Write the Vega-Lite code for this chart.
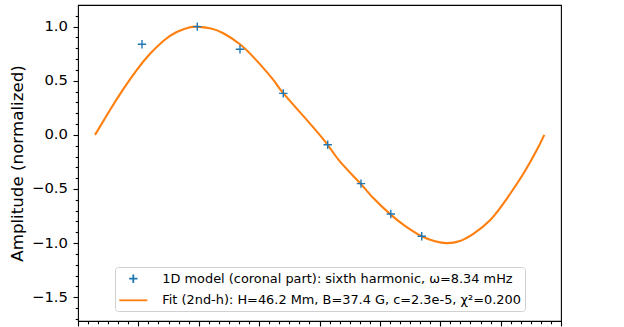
{
  "$schema": "https://vega.github.io/schema/vega-lite/v6.json",
  "width": 483,
  "height": 316,
  "autosize": {"type": "none"},
  "padding": {"left": 78, "top": 5, "right": 63, "bottom": 6},
  "config": {
    "font": "DejaVu Sans",
    "view": {"stroke": "#000000", "strokeWidth": 1.1},
    "axis": {"grid": false, "domain": false, "tickColor": "#000000", "labelColor": "#000000", "titleColor": "#000000", "labelFont": "DejaVu Sans", "titleFont": "DejaVu Sans", "tickWidth": 1.1, "labelOverlap": false}
  },
  "datasets": {
    "fitcurve": [
      {"x": 0.282, "y": 0.0, "series": "Fit (2nd-h): H=46.2 Mm, B=37.4 G, c=2.3e-5, χ²=0.200"},
      {"x": 0.530, "y": 0.229, "series": "Fit (2nd-h): H=46.2 Mm, B=37.4 G, c=2.3e-5, χ²=0.200"},
      {"x": 0.750, "y": 0.422, "series": "Fit (2nd-h): H=46.2 Mm, B=37.4 G, c=2.3e-5, χ²=0.200"},
      {"x": 0.972, "y": 0.599, "series": "Fit (2nd-h): H=46.2 Mm, B=37.4 G, c=2.3e-5, χ²=0.200"},
      {"x": 1.193, "y": 0.749, "series": "Fit (2nd-h): H=46.2 Mm, B=37.4 G, c=2.3e-5, χ²=0.200"},
      {"x": 1.413, "y": 0.868, "series": "Fit (2nd-h): H=46.2 Mm, B=37.4 G, c=2.3e-5, χ²=0.200"},
      {"x": 1.635, "y": 0.951, "series": "Fit (2nd-h): H=46.2 Mm, B=37.4 G, c=2.3e-5, χ²=0.200"},
      {"x": 1.855, "y": 0.994, "series": "Fit (2nd-h): H=46.2 Mm, B=37.4 G, c=2.3e-5, χ²=0.200"},
      {"x": 1.971, "y": 1.000, "series": "Fit (2nd-h): H=46.2 Mm, B=37.4 G, c=2.3e-5, χ²=0.200"},
      {"x": 2.186, "y": 0.985, "series": "Fit (2nd-h): H=46.2 Mm, B=37.4 G, c=2.3e-5, χ²=0.200"},
      {"x": 2.407, "y": 0.939, "series": "Fit (2nd-h): H=46.2 Mm, B=37.4 G, c=2.3e-5, χ²=0.200"},
      {"x": 2.683, "y": 0.837, "series": "Fit (2nd-h): H=46.2 Mm, B=37.4 G, c=2.3e-5, χ²=0.200"},
      {"x": 2.948, "y": 0.693, "series": "Fit (2nd-h): H=46.2 Mm, B=37.4 G, c=2.3e-5, χ²=0.200"},
      {"x": 3.235, "y": 0.508, "series": "Fit (2nd-h): H=46.2 Mm, B=37.4 G, c=2.3e-5, χ²=0.200"},
      {"x": 3.400, "y": 0.385, "series": "Fit (2nd-h): H=46.2 Mm, B=37.4 G, c=2.3e-5, χ²=0.200"},
      {"x": 3.788, "y": 0.139, "series": "Fit (2nd-h): H=46.2 Mm, B=37.4 G, c=2.3e-5, χ²=0.200"},
      {"x": 4.136, "y": -0.092, "series": "Fit (2nd-h): H=46.2 Mm, B=37.4 G, c=2.3e-5, χ²=0.200"},
      {"x": 4.340, "y": -0.247, "series": "Fit (2nd-h): H=46.2 Mm, B=37.4 G, c=2.3e-5, χ²=0.200"},
      {"x": 4.687, "y": -0.455, "series": "Fit (2nd-h): H=46.2 Mm, B=37.4 G, c=2.3e-5, χ²=0.200"},
      {"x": 4.891, "y": -0.584, "series": "Fit (2nd-h): H=46.2 Mm, B=37.4 G, c=2.3e-5, χ²=0.200"},
      {"x": 5.184, "y": -0.739, "series": "Fit (2nd-h): H=46.2 Mm, B=37.4 G, c=2.3e-5, χ²=0.200"},
      {"x": 5.416, "y": -0.840, "series": "Fit (2nd-h): H=46.2 Mm, B=37.4 G, c=2.3e-5, χ²=0.200"},
      {"x": 5.693, "y": -0.937, "series": "Fit (2nd-h): H=46.2 Mm, B=37.4 G, c=2.3e-5, χ²=0.200"},
      {"x": 5.913, "y": -0.983, "series": "Fit (2nd-h): H=46.2 Mm, B=37.4 G, c=2.3e-5, χ²=0.200"},
      {"x": 6.107, "y": -1.000, "series": "Fit (2nd-h): H=46.2 Mm, B=37.4 G, c=2.3e-5, χ²=0.200"},
      {"x": 6.327, "y": -0.980, "series": "Fit (2nd-h): H=46.2 Mm, B=37.4 G, c=2.3e-5, χ²=0.200"},
      {"x": 6.548, "y": -0.914, "series": "Fit (2nd-h): H=46.2 Mm, B=37.4 G, c=2.3e-5, χ²=0.200"},
      {"x": 6.824, "y": -0.789, "series": "Fit (2nd-h): H=46.2 Mm, B=37.4 G, c=2.3e-5, χ²=0.200"},
      {"x": 7.101, "y": -0.591, "series": "Fit (2nd-h): H=46.2 Mm, B=37.4 G, c=2.3e-5, χ²=0.200"},
      {"x": 7.376, "y": -0.360, "series": "Fit (2nd-h): H=46.2 Mm, B=37.4 G, c=2.3e-5, χ²=0.200"},
      {"x": 7.597, "y": -0.143, "series": "Fit (2nd-h): H=46.2 Mm, B=37.4 G, c=2.3e-5, χ²=0.200"},
      {"x": 7.723, "y": 0.0, "series": "Fit (2nd-h): H=46.2 Mm, B=37.4 G, c=2.3e-5, χ²=0.200"}
    ],
    "model": [
      {"x": 1.060, "y": 0.837, "series": "1D model (coronal part): sixth harmonic, ω=8.34 mHz"},
      {"x": 1.976, "y": 1.000, "series": "1D model (coronal part): sixth harmonic, ω=8.34 mHz"},
      {"x": 2.683, "y": 0.791, "series": "1D model (coronal part): sixth harmonic, ω=8.34 mHz"},
      {"x": 3.400, "y": 0.383, "series": "1D model (coronal part): sixth harmonic, ω=8.34 mHz"},
      {"x": 4.136, "y": -0.092, "series": "1D model (coronal part): sixth harmonic, ω=8.34 mHz"},
      {"x": 4.687, "y": -0.451, "series": "1D model (coronal part): sixth harmonic, ω=8.34 mHz"},
      {"x": 5.181, "y": -0.731, "series": "1D model (coronal part): sixth harmonic, ω=8.34 mHz"},
      {"x": 5.693, "y": -0.937, "series": "1D model (coronal part): sixth harmonic, ω=8.34 mHz"}
    ]
  },
  "layer": [
    {
      "data": {"name": "fitcurve"},
      "mark": {"type": "line", "strokeWidth": 2.1, "interpolate": "natural"},
      "encoding": {
        "x": {"field": "x", "type": "quantitative", "scale": {"domain": [0, 8], "nice": false, "zero": false},
          "axis": {"orient": "bottom", "labels": false, "tickSize": 5, "title": null, "values": [0, 1, 2, 3, 4, 5, 6, 7, 8]}},
        "y": {"field": "y", "type": "quantitative", "scale": {"domain": [-1.72, 1.2], "nice": false, "zero": false},
          "axis": {"orient": "left", "tickSize": 5, "labelFontSize": 14.8, "labelPadding": 5.5,
            "values": [-1.5, -1, -0.5, 0, 0.5, 1],
            "labelExpr": "replace(format(datum.value, '.1f'), '-', '−')",
            "title": "Amplitude (normalized)", "titleFontSize": 16.7, "titleFontWeight": "normal", "titlePadding": 5}},
        "color": {"field": "series", "type": "nominal",
          "scale": {"domain": ["1D model (coronal part): sixth harmonic, ω=8.34 mHz", "Fit (2nd-h): H=46.2 Mm, B=37.4 G, c=2.3e-5, χ²=0.200"], "range": ["#1f77b4", "#ff7f0e"]},
          "legend": {"orient": "none", "legendX": 37, "legendY": 262, "title": null, "fillColor": "#ffffff", "strokeColor": "#d0d0d0",
            "cornerRadius": 3, "padding": 3.7, "rowPadding": 5.6, "symbolSize": 196, "symbolOffset": 6.6, "symbolStrokeWidth": 1.8,
            "labelFontSize": 12.9, "labelFont": "DejaVu Sans", "labelColor": "#000000", "labelOffset": 21, "labelLimit": 600}}
      }
    },
    {
      "data": {"name": "model"},
      "mark": {"type": "point", "size": 196, "strokeWidth": 1.4, "filled": false, "opacity": 1},
      "encoding": {
        "x": {"field": "x", "type": "quantitative", "scale": {"domain": [0, 8], "nice": false, "zero": false},
          "axis": {"orient": "bottom", "labels": false, "tickSize": 2.8, "title": null,
            "values": [0.1667,0.3333,0.5,0.6667,0.8333,1.1667,1.3333,1.5,1.6667,1.8333,2.1667,2.3333,2.5,2.6667,2.8333,3.1667,3.3333,3.5,3.6667,3.8333,4.1667,4.3333,4.5,4.6667,4.8333,5.1667,5.3333,5.5,5.6667,5.8333,6.1667,6.3333,6.5,6.6667,6.8333,7.1667,7.3333,7.5,7.6667,7.8333]}},
        "y": {"field": "y", "type": "quantitative", "scale": {"domain": [-1.72, 1.2], "nice": false, "zero": false},
          "axis": {"orient": "left", "labels": false, "tickSize": 2.8, "title": null,
            "values": [-1.7,-1.6,-1.4,-1.3,-1.2,-1.1,-0.9,-0.8,-0.7,-0.6,-0.4,-0.3,-0.2,-0.1,0.1,0.2,0.3,0.4,0.6,0.7,0.8,0.9,1.1]}},
        "color": {"field": "series", "type": "nominal"},
        "shape": {"field": "series", "type": "nominal",
          "scale": {"domain": ["1D model (coronal part): sixth harmonic, ω=8.34 mHz", "Fit (2nd-h): H=46.2 Mm, B=37.4 G, c=2.3e-5, χ²=0.200"], "range": ["M-0.6,0H0.6M0,-0.6V0.6", "M-2,0H2"]}}
      }
    }
  ],
  "resolve": {"axis": {"x": "independent", "y": "independent"}}
}
